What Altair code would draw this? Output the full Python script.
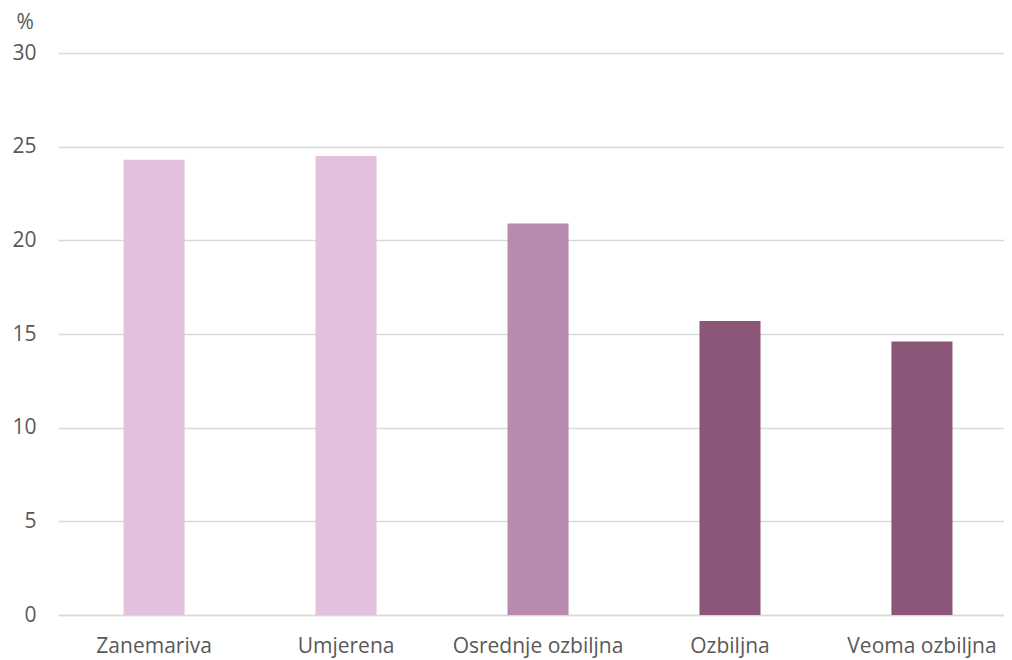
import altair as alt
import pandas as pd

categories = ["Zanemariva", "Umjerena", "Osrednje ozbiljna", "Ozbiljna", "Veoma ozbiljna"]
values = [24.3, 24.5, 20.9, 15.7, 14.6]
colors = ["#E2C1DD", "#E2C1DD", "#B78AAE", "#8C5679", "#8C5679"]
y_ticks = [0, 5, 10, 15, 20, 25, 30]

df = pd.DataFrame({"kategorija": categories, "vrijednost": values})

FONT = "Open Sans"
TXT = "#595959"

chart = alt.Chart(df).mark_bar().encode(
    x=alt.X("kategorija:N", sort=categories,
            scale=alt.Scale(paddingInner=0.682, paddingOuter=0.305, align=0.56),
            axis=alt.Axis(title=None, labelAngle=0, labelFontSize=21, labelColor=TXT,
                          labelFont=FONT, labelPadding=20, ticks=False,
                          domainColor="#D9D9D9", domainWidth=1.5, grid=False)),
    y=alt.Y("vrijednost:Q", scale=alt.Scale(domain=[0, 30], nice=False),
            axis=alt.Axis(values=y_ticks, title="%", titleAngle=0, titleAlign="left",
                          titleBaseline="alphabetic", titleX=-42, titleY=-25,
                          titleFontSize=21, titleFontWeight="normal", titleColor=TXT,
                          titleFont=FONT,
                          labelFontSize=21, labelColor=TXT, labelFont=FONT,
                          labelPadding=22, ticks=False, domain=False,
                          gridColor="#D9D9D9", gridWidth=1.5)),
    color=alt.Color("kategorija:N", scale=alt.Scale(domain=categories, range=colors), legend=None),
).properties(
    width=946, height=562,
    padding={"left": 50, "top": 45, "right": 0, "bottom": 46},
    autosize=alt.AutoSizeParams(type="none"),
).configure_view(stroke=None)

chart.save("out.html", embed_options={"renderer": "svg", "actions": False})
